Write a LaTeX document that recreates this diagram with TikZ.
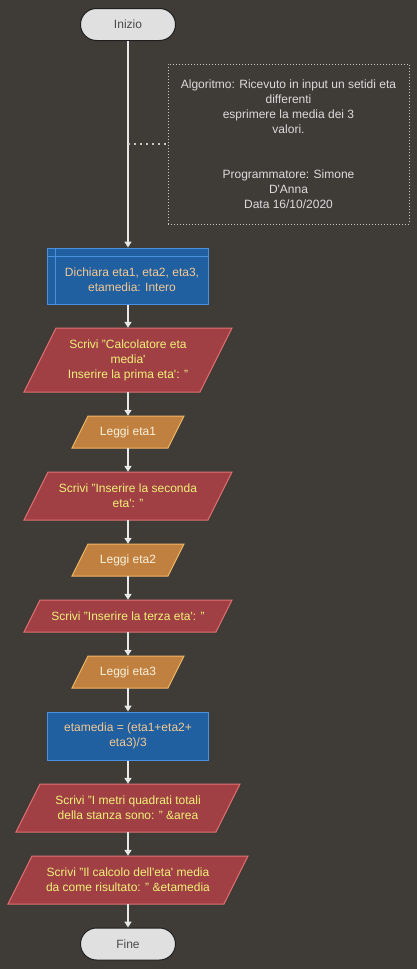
\documentclass[tikz,border=0pt]{standalone}
\usepackage{fontspec}
\setmainfont{Liberation Sans}
\usetikzlibrary{arrows.meta}

\definecolor{bgcol}{HTML}{3F3B37}
\definecolor{flowcol}{HTML}{E8E8E8}
\definecolor{termfill}{HTML}{E0E0E0}
\definecolor{termline}{HTML}{1E1E1E}
\definecolor{termtext}{HTML}{4A4A4A}
\definecolor{procfill}{HTML}{2160A0}
\definecolor{procline}{HTML}{4A90E2}
\definecolor{proctext}{HTML}{F2C894}
\definecolor{scrfill}{HTML}{A04045}
\definecolor{scrline}{HTML}{E07070}
\definecolor{scrtext}{HTML}{F2F078}
\definecolor{legfill}{HTML}{C0803F}
\definecolor{legline}{HTML}{F2B565}
\definecolor{legtext}{HTML}{FAF2DC}
\definecolor{notecol}{HTML}{C8C8C8}
\definecolor{notetext}{HTML}{DCDCDC}

\newcommand{\ap}{\textquotesingle}
% parallelogram: name, y, width, height, style, text
\newcommand{\inout}[6]{%
  \draw[#5] (128-#3/2+#4/4,#2-#4/2) -- (128+#3/2+#4/4,#2-#4/2) -- (128+#3/2-#4/4,#2+#4/2) -- (128-#3/2-#4/4,#2+#4/2) -- cycle;
  \node[#5 txt,minimum width=#3pt,minimum height=#4pt] (#1) at (128,#2) {#6};}

\begin{document}
\begin{tikzpicture}[x=1pt,y=-1pt,
    font=\fontsize{12}{15}\selectfont,
    term/.style={draw=termline,fill=termfill,text=termtext,rounded corners=16pt,minimum width=95pt,minimum height=32pt,line width=1pt},
    proc/.style={draw=procline,fill=procfill,text=proctext,align=center,line width=1pt,inner sep=0pt},
    scrivi/.style={draw=scrline,fill=scrfill,line width=1pt},
    scrivi txt/.style={text=scrtext,align=center,inner sep=0pt},
    leggi/.style={draw=legline,fill=legfill,line width=1pt},
    leggi txt/.style={text=legtext,align=center,inner sep=0pt},
    flow/.style={draw=flowcol,line width=2pt,-{Triangle[width=7pt,length=6pt]}},
    note/.style={draw=notecol,dash pattern=on 1pt off 2pt,text=notetext,align=center,minimum width=241pt,minimum height=160pt,line width=1pt},
    link/.style={draw=notecol,line width=2pt,dash pattern=on 2pt off 4pt}]
    \fill[bgcol] (0,0) rectangle (417,969);
    % start and comment
    \node[term] (start) at (128,24.5) {Inizio};
    \node[note] (note) at (288.5,144) {Algoritmo: Ricevuto in input un setidi eta\\differenti\\esprimere la media dei 3\\valori.\\[30pt]Programmatore: Simone\\D\ap Anna\\Data 16/10/2020};
    \coordinate (tap) at (128,144);
    % declaration
    \node[proc,minimum width=161pt,minimum height=56pt,path picture={
        \draw[procline,line width=1pt] ([xshift=8pt]path picture bounding box.north west) -- ([xshift=8pt]path picture bounding box.south west)
            ([yshift=-8pt]path picture bounding box.north west) -- ([yshift=-8pt]path picture bounding box.north east);}] (decl) at (128,276) {};
    \node[proc,draw=none,fill=none] (decltxt) at (132,280) {Dichiara eta1, eta2, eta3,\\etamedia: Intero};
    % input / output
    \inout{s1}{360}{176}{64}{scrivi}{Scrivi "Calcolatore eta\\media\ap\\Inserire la prima eta\ap: "}
    \inout{l1}{432}{96}{32}{leggi}{Leggi eta1}
    \inout{s2}{496}{184}{48}{scrivi}{Scrivi "Inserire la seconda\\eta\ap: "}
    \inout{l2}{560}{96}{32}{leggi}{Leggi eta2}
    \inout{s3}{616}{192}{32}{scrivi}{Scrivi "Inserire la terza eta\ap: "}
    \inout{l3}{672}{96}{32}{leggi}{Leggi eta3}
    \node[proc,minimum width=161pt,minimum height=48pt] (calc) at (128,736) {etamedia = (eta1+eta2+\\eta3)/3};
    \inout{s4}{808}{200}{48}{scrivi}{Scrivi "I metri quadrati totali\\della stanza sono: " \&area}
    \inout{s5}{880}{216}{48}{scrivi}{Scrivi "Il calcolo dell\ap eta\ap\ media\\da come risultato: " \&etamedia}
    \node[term] (stop) at (128,944) {Fine};
    % connectors
    \draw[flow] (start) -- (decl);
    \draw[flow] (decl) -- (s1);
    \draw[flow] (s1) -- (l1);
    \draw[flow] (l1) -- (s2);
    \draw[flow] (s2) -- (l2);
    \draw[flow] (l2) -- (s3);
    \draw[flow] (s3) -- (l3);
    \draw[flow] (l3) -- (calc);
    \draw[flow] (calc) -- (s4);
    \draw[flow] (s4) -- (s5);
    \draw[flow] (s5) -- (stop);
    \draw[link] (tap) -- (note);
\end{tikzpicture}
\end{document}
